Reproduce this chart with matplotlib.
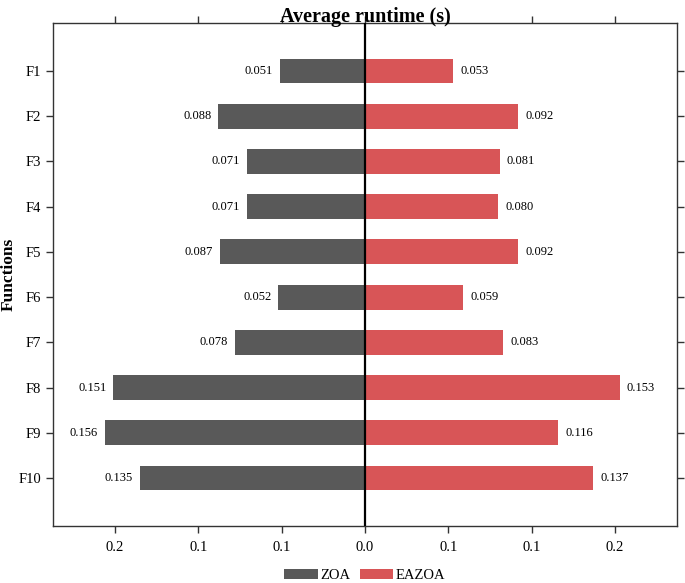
import matplotlib
matplotlib.use('Agg')
from matplotlib import pyplot as plt
import numpy as np

plt.rcParams['font.family'] = ['Liberation Serif', 'DejaVu Serif']

functions = ['F1', 'F2', 'F3', 'F4', 'F5', 'F6', 'F7', 'F8', 'F9', 'F10']
zoa = [0.051, 0.088, 0.071, 0.071, 0.087, 0.052, 0.078, 0.151, 0.156, 0.135]
eazoa = [0.053, 0.092, 0.081, 0.080, 0.092, 0.059, 0.083, 0.153, 0.116, 0.137]
x_ticks = [-0.15, -0.10, -0.05, 0.0, 0.05, 0.10, 0.15]
x_tick_labels = ['0.2', '0.1', '0.1', '0.0', '0.1', '0.1', '0.2']

gray = '#595959'
red = '#d85557'

fig = plt.figure(figsize=(6.85, 5.83), dpi=100)
ax = fig.add_axes([0.0774, 0.0978, 0.9106, 0.8627])

y = np.arange(len(functions))
ax.barh(y, -np.array(zoa), height=0.55, color=gray, label='ZOA')
ax.barh(y, eazoa, height=0.55, color=red, label='EAZOA')
ax.axvline(0, color='black', lw=1.6, zorder=3)

# value labels next to the bar ends
for i, (a, b) in enumerate(zip(zoa, eazoa)):
    ax.annotate('%.3f' % a, (-a, i), xytext=(-5, 0), textcoords='offset points',
                ha='right', va='center', fontsize=9)
    ax.annotate('%.3f' % b, (b, i), xytext=(5, 0), textcoords='offset points',
                ha='left', va='center', fontsize=9)

lim = max(max(zoa), max(eazoa)) * 1.2
ax.set_xlim(-lim, lim)
ax.set_ylim(len(functions) - 1 + 1.06, -1.06)
ax.set_yticks(y)
ax.set_yticklabels(functions, fontsize=10.5)
ax.set_xticks(x_ticks)
ax.set_xticklabels(x_tick_labels, fontsize=10.5)
ax.tick_params(direction='out', length=5, width=1, color='#333333',
               top=True, right=True, labeltop=False, labelright=False)
ax.tick_params(axis='x', pad=6)
for s in ax.spines.values():
    s.set_color('#333333')
    s.set_linewidth(1.0)

ax.set_title('Average runtime (s)', fontsize=14.5, fontweight='bold', pad=1)
ax.set_ylabel('Functions', fontsize=12.5, fontweight='bold')
ax.yaxis.set_label_coords(-0.058, 0.5)

ax.legend(loc='center', bbox_to_anchor=(0.5, -0.098), ncol=2, frameon=False,
          fontsize=10.5, handlelength=2.3, handleheight=0.75,
          handletextpad=0.2, columnspacing=0.6, borderaxespad=0)

fig.savefig('out.png', dpi=100)
